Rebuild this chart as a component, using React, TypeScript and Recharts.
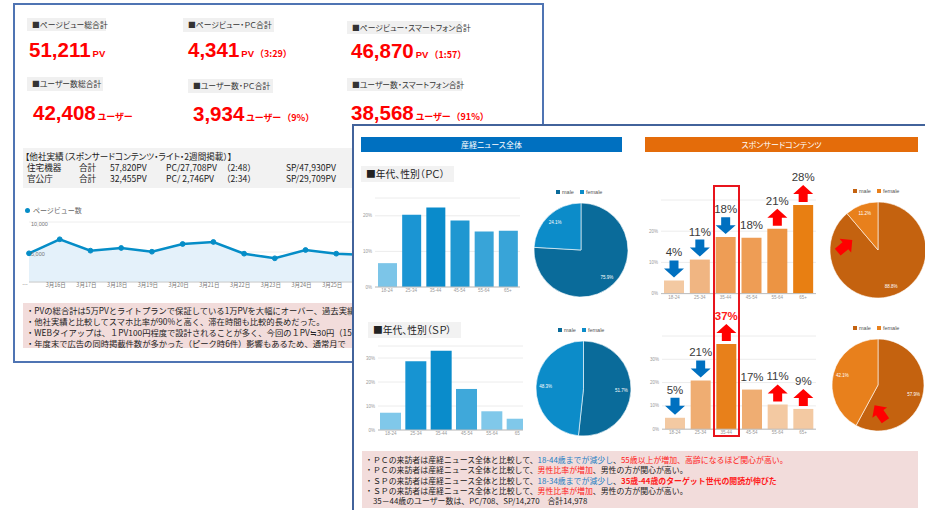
import React from 'react';
import {
  Area,
  AreaChart,
  Bar,
  BarChart,
  CartesianGrid,
  Cell,
  Pie,
  PieChart,
  XAxis,
  YAxis,
} from 'recharts';

const JP = '"Noto Sans CJK JP", "Noto Sans", sans-serif';
const AR = '"Liberation Sans", Arial, sans-serif';

// daily page views (back slide, the rest is hidden under the front slide)
const pvDates = [
  '3月15日', '3月16日', '3月17日', '3月18日', '3月19日', '3月20日',
  '3月21日', '3月22日', '3月23日', '3月24日', '3月25日', '3月26日',
];
const pvValues = [4780, 7120, 5220, 5670, 5050, 6330, 6670, 4720, 3950, 5330, 4720, 4500];

// age / gender share (front slide), percent
const ageGroups = ['18-24', '25-34', '35-44', '45-54', '55-64', '65+'];
const newsPc = [6.7, 20.3, 22.3, 18.7, 15.6, 15.8];
const newsSp = [7.2, 28.6, 33.0, 17.1, 7.8, 4.7];
const sponsorPc = [4.2, 10.9, 18.1, 17.9, 20.8, 28.4];
const sponsorSp = [4.9, 20.9, 36.6, 17.0, 10.6, 8.7];
const sponsorPcArrows = ['down', 'down', 'down', '', 'up', 'up'];
const sponsorSpArrows = ['down', 'down', 'up', '', 'up', 'up'];

const genders = ['male', 'female'];
const newsPcGender = [75.9, 24.1];
const newsSpGender = [51.7, 48.3];
const sponsorPcGender = [88.8, 11.2];
const sponsorSpGender = [57.9, 42.1];

const blueBarsPc = ['#7cc5e8', '#1b95d3', '#0a8bcb', '#1f97d1', '#38a4d8', '#38a4d8'];
const blueBarsSp = ['#80c8ea', '#1794d2', '#0a8ccb', '#3fa8da', '#80c8ea', '#80c8ea'];
const orangeBarsPc = ['#f3c9a2', '#f0b582', '#ee9d55', '#ee9d55', '#ec9443', '#e87f12'];
const orangeBarsSp = ['#f3c9a2', '#efad72', '#e8801a', '#efad72', '#f3c9a2', '#f3c9a2'];
const bluePie = ['#0a6b9a', '#0c8cc9'];
const orangePie = ['#c4620f', '#e8801c'];

const abs = (left: number, top: number, extra: React.CSSProperties = {}): React.CSSProperties => ({
  position: 'absolute',
  left,
  top,
  ...extra,
});

function arrowShape(cx: number, cy: number, angle: number, fill: string, len = 17, headW = 20, shaftW = 9, headL = 9) {
  const t = -len / 2;
  const b = len / 2;
  const h = t + headL;
  const pts = [
    [0, t], [headW / 2, h], [shaftW / 2, h], [shaftW / 2, b],
    [-shaftW / 2, b], [-shaftW / 2, h], [-headW / 2, h],
  ];
  return (
    <polygon
      points={pts.map((p) => p.join(',')).join(' ')}
      fill={fill}
      transform={`translate(${cx},${cy}) rotate(${angle})`}
    />
  );
}

const LabelBox = ({ left, top, w, h, text }: any) => (
  <div
    style={abs(left, top, {
      width: w,
      height: h,
      background: '#f0f0f0',
      fontFamily: JP,
      fontSize: 7.8,
      lineHeight: `${h}px`,
      color: '#333',
      paddingLeft: 5,
      boxSizing: 'border-box',
      whiteSpace: 'nowrap',
      fontFeatureSettings: '"palt"',
    })}
  >
    {text}
  </div>
);

const BigNum = ({ left, baseline, num, unit, extra }: any) => (
  <div
    style={abs(left, baseline - 17, {
      display: 'flex',
      alignItems: 'baseline',
      color: '#ff0000',
      fontWeight: 'bold',
      whiteSpace: 'nowrap',
      lineHeight: '20px',
    })}
  >
    <span style={{ fontFamily: AR, fontSize: 20.5 }}>{num}</span>
    <span style={{ fontFamily: unit === 'PV' ? AR : JP, fontSize: unit === 'PV' ? 9.5 : 9, marginLeft: 2, fontFeatureSettings: '"palt"' }}>{unit}</span>
    {extra && <span style={{ fontFamily: JP, fontSize: 9, marginLeft: 1 }}>{extra}</span>}
  </div>
);

const PageViewChart = () => {
  const data = pvDates.map((d, i) => ({ date: d, pv: pvValues[i] }));
  return (
    <div style={abs(15, 202)}>
      <AreaChart width={352} height={93} data={data} margin={{ top: 20, right: 0, left: 13, bottom: 0 }}>
        <CartesianGrid vertical={false} stroke="#eeeeee" />
        <XAxis
          dataKey="date"
          interval={0}
          tickLine={false}
          tickSize={0}
          tickMargin={0}
          height={13}
          axisLine={{ stroke: '#cccccc' }}
          tick={(p: any) => (
            <text x={p.x - 4} y={p.y + 5} fontSize={5.5} fill="#777" fontFamily={JP} textAnchor="middle">
              {p.index === 0 ? '…' : p.index > 10 ? '' : p.payload.value}
            </text>
          )}
        />
        <YAxis
          width={1}
          domain={[0, 10000]}
          ticks={[5000, 10000]}
          axisLine={false}
          tickLine={false}
          tickSize={0}
          tickMargin={0}
          tick={(p: any) => (
            <text x={16} y={p.y + 2} fontSize={5.5} fill="#777" fontFamily={AR} dominantBaseline="central">
              {Number(p.payload.value).toLocaleString('en-US')}
            </text>
          )}
        />
        <Area
          type="linear"
          dataKey="pv"
          stroke="#058dc7"
          strokeWidth={2.5}
          fill="#e4f1fa"
          fillOpacity={1}
          dot={{ r: 2.4, fill: '#058dc7', stroke: '#058dc7', strokeWidth: 1 }}
          isAnimationActive={false}
        />
      </AreaChart>
    </div>
  );
};

const makeBarLabel = (values: number[], arrows: string[], highlight: number) => (props: any) => {
  const { x, y, width, value } = props;
  const i = props.index ?? values.indexOf(value);
  const cx = x + width / 2;
  const dir = arrows[i];
  const hi = i === highlight;
  const ly = dir ? y - 28 : y - 13;
  return (
    <g>
      {dir && arrowShape(cx, y - 11.5, dir === 'up' ? 0 : 180, dir === 'up' ? '#ff0000' : '#0070c0')}
      <text
        x={cx}
        y={ly}
        textAnchor="middle"
        dominantBaseline="central"
        fontSize={11.5}
        fontFamily={AR}
        fontWeight={hi ? 'bold' : 'normal'}
        fill={hi ? '#ff1a1a' : '#3a3a3a'}
      >
        {Math.round(value)}%
      </text>
    </g>
  );
};

const AgeBars = ({ plotLeft, plotTop, plotW, plotH, values, colors, max, ticks, barSize, label, clipRight }: any) => {
  const data = ageGroups.map((g, i) => ({ age: g, v: values[i] }));
  const YW = 22;
  const MT = label ? 40 : 6;
  const XH = 12;
  const left = plotLeft - YW;
  const top = plotTop - MT;
  const width = plotW + YW + 4;
  return (
    <div
      style={abs(left, top, {
        width: clipRight ? clipRight - left : width,
        height: plotH + MT + XH,
        overflow: 'hidden',
      })}
    >
      <BarChart width={width} height={plotH + MT + XH} data={data} margin={{ top: MT, right: 4, left: 0, bottom: 0 }}>
        <CartesianGrid vertical={false} stroke="#ececec" />
        <XAxis
          dataKey="age"
          interval={0}
          tickLine={false}
          tickSize={0}
          tickMargin={0}
          height={XH}
          axisLine={{ stroke: '#bdbdbd' }}
          tick={(p: any) => (
            <text x={p.x} y={p.y + 5} fontSize={4.5} fill="#999" fontFamily={AR} textAnchor="middle">
              {clipRight && p.index === 5 ? '65' : p.payload.value}
            </text>
          )}
        />
        <YAxis
          width={YW}
          domain={[0, max]}
          ticks={ticks}
          axisLine={false}
          tickLine={false}
          tickSize={0}
          tickMargin={0}
          tick={(p: any) => (
            <text x={p.x - 3} y={p.y} fontSize={4.5} fill="#999" fontFamily={AR} textAnchor="end" dominantBaseline="central">
              {p.payload.value}%
            </text>
          )}
        />
        <Bar dataKey="v" barSize={barSize} isAnimationActive={false} label={label}>
          {data.map((d, i) => (
            <Cell key={d.age} fill={colors[i]} />
          ))}
        </Bar>
      </BarChart>
    </div>
  );
};

const renderPieLabel = (props: any) => {
  const RAD = Math.PI / 180;
  const { cx, cy, midAngle, outerRadius, value } = props;
  const r = outerRadius * 0.8;
  const x = cx + r * Math.cos(-midAngle * RAD);
  const y = cy + r * Math.sin(-midAngle * RAD);
  return (
    <text x={x} y={y} fill="#ffffff" fontSize={4.5} fontFamily={AR} textAnchor="middle" dominantBaseline="central">
      {value.toFixed(1)}%
    </text>
  );
};

const GenderPie = ({ cx, cy, r, values, colors, legendLeft, legendTop }: any) => {
  const data = genders.map((g, i) => ({ name: g, v: values[i] }));
  const size = 2 * r + 4;
  return (
    <>
      <div style={abs(cx - r - 2, cy - r - 2)}>
        <PieChart width={size} height={size} margin={{ top: 0, right: 0, bottom: 0, left: 0 }}>
          <Pie
            data={data}
            dataKey="v"
            cx={r + 2}
            cy={r + 2}
            outerRadius={r}
            startAngle={90}
            endAngle={-270}
            stroke="#ffffff"
            strokeWidth={0.6}
            label={renderPieLabel}
            labelLine={false}
            isAnimationActive={false}
          >
            {data.map((d, i) => (
              <Cell key={d.name} fill={colors[i]} />
            ))}
          </Pie>
        </PieChart>
      </div>
      <div style={abs(legendLeft, legendTop, { display: 'flex', alignItems: 'center', fontFamily: AR, fontSize: 5.5, color: '#555', whiteSpace: 'nowrap' })}>
        {genders.map((g, i) => (
          <span key={g} style={{ display: 'flex', alignItems: 'center', marginRight: 6 }}>
            <span style={{ width: 4, height: 4, background: colors[i], marginRight: 2, display: 'inline-block' }} />
            {g}
          </span>
        ))}
      </div>
    </>
  );
};

const redText = { color: '#ff1a1a' };
const blueText = { color: '#1f7fc4' };

const App = () => (
  <div style={abs(0, 0, { width: 925, height: 510, overflow: 'hidden', background: '#ffffff' })}>
    {/* back slide */}
    <div style={abs(13, 3, { width: 531, height: 360, border: '2px solid #4f74b3', boxSizing: 'border-box' })} />
    <LabelBox left={27} top={18} w={79} h={13} text="■ページビュー総合計" />
    <LabelBox left={183} top={18} w={91} h={14} text="■ページビュー・ＰＣ合計" />
    <LabelBox left={347} top={21} w={115} h={13} text="■ページビュー・スマートフォン合計" />
    <LabelBox left={27} top={77} w={76} h={14} text="■ユーザー数総合計" />
    <LabelBox left={188} top={79} w={85} h={14} text="■ユーザー数・ＰＣ合計" />
    <LabelBox left={347} top={78} w={115} h={13} text="■ユーザー数・スマートフォン合計" />
    <BigNum left={29} baseline={57} num="51,211" unit="PV" />
    <BigNum left={188} baseline={57} num="4,341" unit="PV" extra="（3:29）" />
    <BigNum left={351} baseline={58} num="46,870" unit="PV" extra="（1:57）" />
    <BigNum left={33} baseline={120} num="42,408" unit="ユーザー" />
    <BigNum left={193} baseline={121} num="3,934" unit="ユーザー" extra="（9%）" />
    <BigNum left={351} baseline={120} num="38,568" unit="ユーザー" extra="（91%）" />

    <div style={abs(23, 148, { width: 329, height: 40, background: '#f2f2f2' })} />
    <div style={abs(25, 150, { fontFamily: JP, fontSize: 8.6, color: '#222', whiteSpace: 'nowrap', fontFeatureSettings: '"palt"' })}>
      【他社実績（スポンサードコンテンツ・ライト・2週間掲載）】
    </div>
    {[
      ['住宅機器', '57,820PV', 'PC/27,708PV', '（2:48）', 'SP/47,930PV'],
      ['官公庁', '32,455PV', 'PC/ 2,746PV', '（2:34）', 'SP/29,709PV'],
    ].map((row, r) => (
      <div key={r} style={abs(0, 161 + r * 11, { fontFamily: JP, fontSize: 8.6, color: '#222', whiteSpace: 'nowrap', width: 352, height: 12 })}>
        <span style={abs(27, 0)}>{row[0]}</span>
        <span style={abs(79, 0)}>合計</span>
        <span style={abs(110, 0)}>{row[1]}</span>
        <span style={abs(166, 0)}>{row[2]}</span>
        <span style={abs(222, 0)}>{row[3]}</span>
        <span style={abs(286, 0)}>{row[4]}</span>
      </div>
    ))}

    <div style={abs(25, 208, { width: 5, height: 5, borderRadius: 3, background: '#058dc7' })} />
    <div style={abs(33, 205, { fontFamily: JP, fontSize: 7, color: '#666', whiteSpace: 'nowrap' })}>ページビュー数</div>
    <PageViewChart />

    <div
      style={abs(23, 303, {
        width: 329,
        height: 45,
        background: '#f2dcdb',
        fontFamily: JP,
        fontSize: 8.3,
        lineHeight: '11px',
        color: '#222',
        whiteSpace: 'nowrap',
        paddingTop: 2,
        paddingLeft: 3,
        boxSizing: 'border-box',
        overflow: 'hidden',
      })}
    >
      <div>・PVの総合計は5万PVとライトプランで保証している1万PVを大幅にオーバー、過去実績</div>
      <div>・他社実績と比較してスマホ比率が90%と高く、滞在時間も比較的長めだった。</div>
      <div>・WEBタイアップは、１PV100円程度で設計されることが多く、今回の１PV≒30円（15</div>
      <div>・年度末で広告の同時掲載件数が多かった（ピーク時6件）影響もあるため、通常月で</div>
    </div>

    {/* front slide */}
    <div style={abs(352, 124, { width: 600, height: 400, background: '#ffffff', border: '2px solid #42639b', boxSizing: 'border-box' })} />
    <div style={abs(361, 137, { width: 261, height: 15, background: '#0070c0', color: '#fff', fontFamily: JP, fontSize: 8, lineHeight: '15px', textAlign: 'center', fontFeatureSettings: '"palt"' })}>
      産経ニュース全体
    </div>
    <div style={abs(645, 137, { width: 273, height: 15, background: '#e46c0a', color: '#fff', fontFamily: JP, fontSize: 8, lineHeight: '15px', textAlign: 'center', fontFeatureSettings: '"palt"' })}>
      スポンサードコンテンツ
    </div>
    <div style={abs(361, 166, { width: 93, height: 16, background: '#f2f2f2', fontFamily: JP, fontSize: 9.8, lineHeight: '16px', color: '#222', paddingLeft: 5, boxSizing: 'border-box', whiteSpace: 'nowrap', fontFeatureSettings: '"palt"' })}>
      ■年代、性別（ＰＣ）
    </div>
    <div style={abs(368, 322, { width: 93, height: 16, background: '#f2f2f2', fontFamily: JP, fontSize: 9.8, lineHeight: '16px', color: '#222', paddingLeft: 5, boxSizing: 'border-box', whiteSpace: 'nowrap', fontFeatureSettings: '"palt"' })}>
      ■年代、性別（ＳＰ）
    </div>

    <AgeBars plotLeft={375} plotTop={198} plotW={145} plotH={89} values={newsPc} colors={blueBarsPc} max={25} ticks={[0, 5, 10, 15, 20]} barSize={19} />
    <AgeBars plotLeft={378} plotTop={346} plotW={152} plotH={84} values={newsSp} colors={blueBarsSp} max={35} ticks={[0, 10, 20, 30]} barSize={21} clipRight={523} />
    <AgeBars
      plotLeft={661}
      plotTop={200.4}
      plotW={155}
      plotH={93.6}
      values={sponsorPc}
      colors={orangeBarsPc}
      max={30}
      ticks={[0, 10, 20]}
      barSize={20}
      label={makeBarLabel(sponsorPc, sponsorPcArrows, -1)}
    />
    <AgeBars
      plotLeft={662}
      plotTop={335.8}
      plotW={154}
      plotH={93.2}
      values={sponsorSp}
      colors={orangeBarsSp}
      max={40}
      ticks={[0, 10, 20, 30]}
      barSize={20}
      label={makeBarLabel(sponsorSp, sponsorSpArrows, 2)}
    />

    <GenderPie cx={581} cy={250} r={47} values={newsPcGender} colors={bluePie} legendLeft={556} legendTop={189} />
    <GenderPie cx={583} cy={388} r={47.5} values={newsSpGender} colors={bluePie} legendLeft={558} legendTop={327} />
    <GenderPie cx={878} cy={250} r={48} values={sponsorPcGender} colors={orangePie} legendLeft={853} legendTop={188} />
    <GenderPie cx={878} cy={385} r={46} values={sponsorSpGender} colors={orangePie} legendLeft={853} legendTop={325} />

    <div style={abs(713, 185, { width: 27, height: 252, border: '2px solid #e8141c', boxSizing: 'border-box' })} />
    <svg style={abs(0, 0)} width={925} height={510} pointerEvents="none">
      {arrowShape(845, 246, 50, '#ff0000', 19, 18, 9, 9)}
      {arrowShape(880, 413, -35, '#ff0000', 19, 18, 9, 9)}
    </svg>

    <div
      style={abs(362, 451, {
        width: 556,
        height: 57,
        background: '#f2dcdb',
        fontFamily: JP,
        fontSize: 7.9,
        lineHeight: '10.3px',
        color: '#222',
        whiteSpace: 'nowrap',
        paddingTop: 4,
        paddingLeft: 3,
        boxSizing: 'border-box',
      })}
    >
      <div>
        ・ＰＣの来訪者は産経ニュース全体と比較して、<span style={blueText}>18-44歳までが減少し</span>、
        <span style={redText}>55歳以上が増加、高齢になるほど関心が高い。</span>
      </div>
      <div>
        ・ＰＣの来訪者は産経ニュース全体と比較して、<span style={redText}>男性比率が増加</span>、男性の方が関心が高い。
      </div>
      <div>
        ・ＳＰの来訪者は産経ニュース全体と比較して、<span style={blueText}>18-34歳までが減少し</span>、
        <span style={{ ...redText, fontWeight: 'bold' }}>35歳-44歳のターゲット世代の閲読が伸びた</span>
      </div>
      <div>
        ・ＳＰの来訪者は産経ニュース全体と比較して、<span style={redText}>男性比率が増加</span>、男性の方が関心が高い。
      </div>
      <div>　35－44歳のユーザー数は、PC/708、SP/14,270　合計14,978</div>
    </div>
  </div>
);

export default App;
